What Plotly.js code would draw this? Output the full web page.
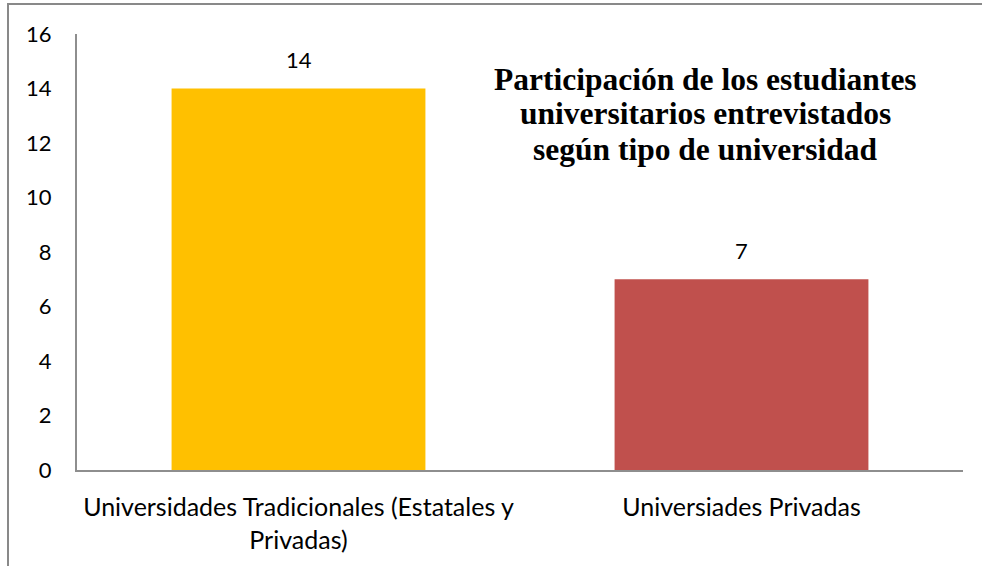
<!DOCTYPE html>
<html>
<head>
<meta charset="utf-8">
<script src="https://cdn.plot.ly/plotly-3.0.1.min.js"></script>
<style>
  html, body { margin: 0; padding: 0; background: #fff; overflow: hidden; }
  #wrap { position: relative; width: 982px; height: 566px; }
  #chart { position: absolute; left: 0; top: 0; width: 982px; height: 566px; }
  #frame { position: absolute; left: 7px; top: 3px; width: 990px; height: 580px;
           border-left: 2px solid #898989; border-top: 2px solid #898989; pointer-events: none; }
</style>
</head>
<body>
<div id="wrap">
  <div id="chart"></div>
  <div id="frame"></div>
</div>
<script>
// ---- data ----
const categories = ["Universidades Tradicionales (Estatales y<br>Privadas)", "Universiades Privadas"];
const values = [14, 7];
const valueLabels = ["14", "7"];
const barColors = ["#FFC000", "#C0504D"];
const titleLines = ["Participación de los estudiantes", "universitarios entrevistados", "según tipo de universidad"];
const yTicks = [0, 2, 4, 6, 8, 10, 12, 14, 16];

const numFont = { family: "Lato, 'Open Sans', sans-serif", size: 22, color: "#000" };
const catFont = { family: "Lato, 'Open Sans', sans-serif", size: 25, color: "#000" };

const trace = {
  type: "bar",
  x: categories,
  y: values,
  marker: { color: barColors, line: { width: 0 } },
  hoverinfo: "none"
};

const annotations = values.map((v, i) => ({
  x: categories[i], y: v, xref: "x", yref: "y",
  text: valueLabels[i], showarrow: false,
  yanchor: "middle", yshift: 29,
  font: numFont
}));

const titleY = [0.8956, 0.817, 0.7362];
titleLines.forEach((t, i) => annotations.push({
  x: 0.709, y: titleY[i], xref: "paper", yref: "paper",
  text: "<b>" + t + "</b>", showarrow: false, borderpad: 0,
  xanchor: "center", yanchor: "middle",
  font: { family: "'Liberation Serif', 'Times New Roman', serif", size: 31.5, color: "#000" }
}));

const layout = {
  width: 982, height: 566,
  margin: { l: 77, r: 19, t: 34, b: 96, pad: 0 },
  paper_bgcolor: "#fff", plot_bgcolor: "#fff",
  showlegend: false,
  bargap: 0.427,
  xaxis: {
    type: "category",
    showline: true, linecolor: "#8e8e8e", linewidth: 2,
    showgrid: false, zeroline: false, ticks: "",
    tickfont: catFont, ticklabelstandoff: 14
  },
  yaxis: {
    range: [0, 16], tickvals: yTicks,
    showline: true, linecolor: "#8e8e8e", linewidth: 2,
    showgrid: false, zeroline: false, ticks: "",
    tickfont: numFont, ticklabelstandoff: 19
  },
  annotations: annotations
};

Plotly.newPlot("chart", [trace], layout, { staticPlot: true, displayModeBar: false });
</script>
</body>
</html>
